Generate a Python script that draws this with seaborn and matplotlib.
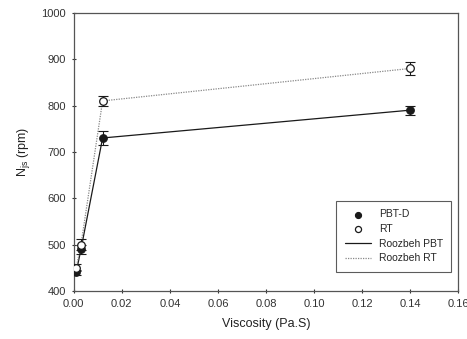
import matplotlib
matplotlib.use("Agg")
import matplotlib.pyplot as plt
import seaborn as sns
import pandas as pd

viscosity = [0.001, 0.003, 0.012, 0.14]
pbt_d = [440, 490, 730, 790]
pbt_err = [6, 10, 15, 10]
rt = [450, 500, 810, 880]
rt_err = [8, 12, 10, 15]

sns.set_theme(style="ticks")
plt.rcParams['font.family'] = ['Liberation Sans', 'DejaVu Sans']

fig = plt.figure(figsize=(4.67, 3.39), dpi=100)
ax = fig.add_axes([0.158, 0.142, 0.823, 0.820])

df_pbt = pd.DataFrame({"x": viscosity, "y": pbt_d})
df_rt = pd.DataFrame({"x": viscosity, "y": rt})

c = "#1a1a1a"
sns.lineplot(data=df_pbt, x="x", y="y", ax=ax, color=c, lw=0.9, label="Roozbeh PBT", zorder=2)
sns.lineplot(data=df_rt, x="x", y="y", ax=ax, color="#888888", lw=0.9, ls=(0, (1, 1)), label="Roozbeh RT", zorder=2)

ax.errorbar(viscosity, pbt_d, yerr=pbt_err, fmt="none", ecolor=c, elinewidth=0.8, capsize=3.5, capthick=0.8, zorder=3)
ax.errorbar(viscosity, rt, yerr=rt_err, fmt="none", ecolor=c, elinewidth=0.8, capsize=3.5, capthick=0.8, zorder=3)

sns.scatterplot(data=df_pbt, x="x", y="y", ax=ax, color=c, s=30, edgecolor=c, linewidth=0.8, label="PBT-D", zorder=4)
sns.scatterplot(data=df_rt, x="x", y="y", ax=ax, facecolor="white", s=30, edgecolor=c, linewidth=0.9, label="RT", zorder=4)

ax.set_xlim(0, 0.16)
ax.set_ylim(400, 1000)
ax.set_xticks([0.00, 0.02, 0.04, 0.06, 0.08, 0.10, 0.12, 0.14, 0.16])
ax.set_xticklabels(["0.00", "0.02", "0.04", "0.06", "0.08", "0.10", "0.12", "0.14", "0.16"])
ax.set_yticks([400, 500, 600, 700, 800, 900, 1000])
ax.tick_params(labelsize=8, length=3, width=0.8, colors="#333333", direction="inout", pad=4)
for s in ax.spines.values():
    s.set_visible(True)
    s.set_color("#555555")
    s.set_linewidth(0.9)

ax.set_xlabel("Viscosity (Pa.S)", fontsize=9, color="#222222", labelpad=7)
ax.set_ylabel(r"N$_{\mathregular{js}}$ (rpm)", fontsize=9, color="#222222", labelpad=7)

h, l = ax.get_legend_handles_labels()
order = ["PBT-D", "RT", "Roozbeh PBT", "Roozbeh RT"]
hd = dict(zip(l, h))
leg = ax.legend([hd[k] for k in order], order, loc="lower right", bbox_to_anchor=(0.996, 0.05),
                fontsize=7.5, frameon=True, fancybox=False, edgecolor="#333333",
                handlelength=2.5, labelspacing=0.45, borderpad=0.8, markerscale=0.8)
leg.get_frame().set_linewidth(0.8)

fig.savefig("out.png", dpi=100)
